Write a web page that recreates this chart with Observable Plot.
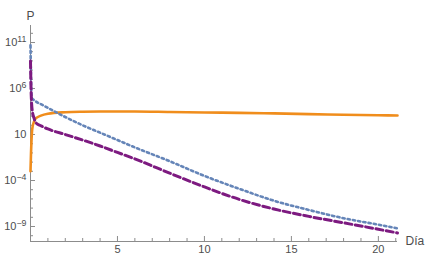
<!DOCTYPE html>
<html>
<head>
<meta charset="utf-8">
<script src="https://cdn.jsdelivr.net/npm/d3@7"></script>
<script src="https://cdn.jsdelivr.net/npm/@observablehq/plot@0.6"></script>
<style>
  html, body { margin: 0; padding: 0; background: #fff; }
  #chart svg { display: block; }
</style>
</head>
<body>
<div id="chart"></div>
<script>
// Día (x) values at which curves were read
const dias = [0, 0.03, 0.06, 0.1, 0.2, 0.3, 0.6, 1, 2, 3, 4, 5, 6, 8, 10, 12, 14, 16, 18, 20, 21.1];
// log10(P)
const expAzul    = [10.7, 7.0, 5.3, 4.9, 4.75, 4.6, 4.3, 3.9, 2.9, 2.0, 1.2, 0.4, -0.4, -1.9, -3.5, -4.9, -6.2, -7.2, -8.1, -8.8, -9.2];
const expMorado  = [9.0, 6.0, 4.5, 3.6, 2.8, 2.3, 1.95, 1.6, 1.0, 0.4, -0.25, -0.95, -1.65, -3.2, -4.7, -6.05, -7.1, -7.9, -8.6, -9.3, -9.7];
const expNaranja = [-3.0, -1.0, 0.5, 1.6, 2.4, 2.75, 3.05, 3.25, 3.42, 3.48, 3.5, 3.5, 3.5, 3.45, 3.4, 3.35, 3.3, 3.22, 3.15, 3.1, 3.07];

const xMajor = [5, 10, 15, 20];
const xMinor = [1, 2, 3, 4, 6, 7, 8, 9, 11, 12, 13, 14, 16, 17, 18, 19, 21];
const yMajorExp = [-9, -4, 1, 6, 11];
const yMinorExp = [-10, -8, -7, -6, -5, -3, -2, -1, 0, 2, 3, 4, 5, 7, 8, 9, 10, 12];

const yMin = 10 ** -10.63, yMax = 10 ** 12.85;

const mk = (exps) => dias.map((d, i) => ({x: d, y: 10 ** exps[i]}));
const azul = mk(expAzul), morado = mk(expMorado), naranja = mk(expNaranja);

const axisColor = "#8c8c8c";
const labelColor = "#4d4d4d";

const chart = Plot.plot({
  width: 426,
  height: 264,
  marginLeft: 30,
  marginRight: 29,
  marginTop: 25,
  marginBottom: 23,
  style: {fontFamily: "'Liberation Sans', Arial, sans-serif", fontSize: "11px", color: labelColor, background: "white"},
  x: {domain: [0, 21.1]},
  y: {type: "log", domain: [yMin, yMax]},
  marks: [
    // axis lines
    Plot.ruleX([0], {stroke: axisColor, strokeWidth: 1}),
    Plot.ruleY([yMin], {stroke: axisColor, strokeWidth: 1}),
    // x ticks (inward)
    Plot.axisX({ticks: xMajor, tickSize: -5, tickFormat: () => "", stroke: axisColor, label: null}),
    Plot.axisX({ticks: xMinor, tickSize: -3, tickFormat: () => "", stroke: axisColor, label: null}),
    Plot.axisX({ticks: xMajor, tickSize: 0, tickPadding: 4, fill: labelColor, label: null}),
    // y ticks (inward)
    Plot.axisY({ticks: yMajorExp.map(e => 10 ** e), tickSize: -5, tickFormat: () => "", stroke: axisColor, label: null}),
    Plot.axisY({ticks: yMinorExp.map(e => 10 ** e), tickSize: -3, tickFormat: () => "", stroke: axisColor, label: null}),
    Plot.axisY({ticks: yMajorExp.map(e => 10 ** e), tickSize: 0, tickPadding: 4, fill: labelColor, label: null,
      tickFormat: d => "E" + Math.round(Math.log10(d))}),
    // curves
    Plot.line(naranja, {x: "x", y: "y", stroke: "#f08d1c", strokeWidth: 2.6, curve: "monotone-x"}),
    Plot.line(azul, {x: "x", y: "y", stroke: "#6585b8", strokeWidth: 2.6, strokeDasharray: "2.3,3", curve: "monotone-x"}),
    Plot.line(morado, {x: "x", y: "y", stroke: "#7d1a80", strokeWidth: 3, strokeDasharray: "7,3.5", curve: "monotone-x"}),
    // axis titles
    Plot.text(["P"], {frameAnchor: "top-left", dy: -14, textAnchor: "middle", fill: labelColor, fontSize: 12}),
    Plot.text(["Día"], {frameAnchor: "bottom-right", dx: 8, textAnchor: "start", lineAnchor: "middle", fill: labelColor, fontSize: 12})
  ]
});

// superscript exponents on y tick labels
d3.select(chart).selectAll('g[aria-label="y-axis tick label"] text').each(function() {
  const t = d3.select(this);
  const raw = t.text();
  if (!raw.startsWith("E")) return;
  const e = +raw.slice(1).replace("−", "-");
  if (isNaN(e)) return;
  t.text("10");
  if (e !== 1) {
    t.append("tspan").attr("dy", "-0.45em").attr("font-size", "0.8em").text(String(e).replace("-", "−"));
  }
});

document.getElementById("chart").appendChild(chart);
</script>
</body>
</html>
